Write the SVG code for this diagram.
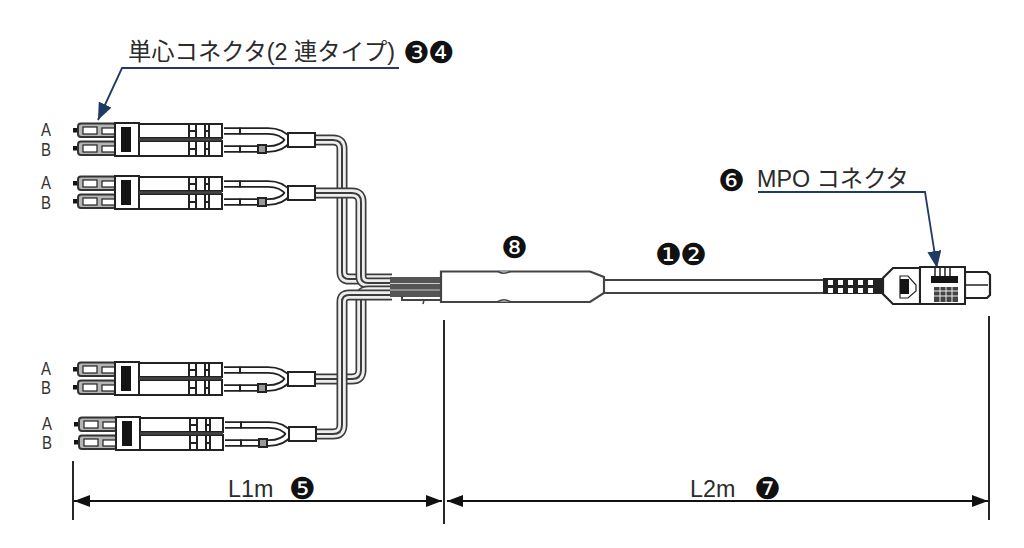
<svg xmlns="http://www.w3.org/2000/svg" xmlns:xlink="http://www.w3.org/1999/xlink" width="1024" height="548" viewBox="0 0 1024 548">
<style>
.t{font-family:"Liberation Sans","Noto Sans CJK JP",sans-serif;font-size:23.3px;fill:#2b2b2b}
.n{font-family:"DejaVu Sans",sans-serif;font-size:30px;fill:#111}
.ab{font-family:"Liberation Sans",sans-serif;font-size:18px;fill:#333}
.d{fill:none;stroke:#222;stroke-width:2}
.w{fill:#fff;stroke:#222;stroke-width:2}
.k{fill:#141414;stroke:none}
.to{fill:none;stroke:#3c3c3c;stroke-width:11}
.ti{fill:none;stroke:#eee;stroke-width:7.600}
.tc{fill:none;stroke:#3c3c3c;stroke-width:2}
.co{fill:none;stroke:#222;stroke-width:7.500}
.ci{fill:none;stroke:#fff;stroke-width:3.800}
.lead{fill:none;stroke:#1f3a63;stroke-width:1.800}
.dim{fill:none;stroke:#111;stroke-width:1.800}
</style>
<defs>
<marker id="ah" markerWidth="17" markerHeight="12" refX="16" refY="6" orient="auto-start-reverse" markerUnits="userSpaceOnUse"><path d="M0,0L16,6L0,12Z" fill="#111"/></marker>
<marker id="bl" markerWidth="18" markerHeight="14" refX="17" refY="7" orient="auto" markerUnits="userSpaceOnUse"><path d="M0,0L17,7L0,14Z" fill="#1f3a63"/></marker>
<g id="ferrule">
<rect class="k" x="73" y="128" width="6" height="4.500"/>
<rect x="78" y="123.500" width="38" height="13.500" rx="3" fill="#b5b5b5" stroke="#333" stroke-width="2"/>
<rect x="83" y="127" width="14" height="7" fill="#fff" stroke="#222" stroke-width="1.200"/>
<rect x="102" y="128" width="14" height="6" fill="#fff" stroke="#222" stroke-width="1.200"/>
</g>
<g id="cap"><path class="d" d="M189,0V14M196,0V14M205,0V14M209,0V14M189,7H196M205,7H209"/></g>
<g id="lc">
<use href="#ferrule"/><use href="#ferrule" y="18"/>
<path class="co" d="M224,131H268Q282,131 288,140"/><path class="co" d="M224,149H268Q282,149 288,140"/>
<path class="ci" d="M224,131H268Q282,131 288,140"/><path class="ci" d="M224,149H268Q282,149 288,140"/>
<path class="d" d="M240,127.500V134.500M240,145.500V152.500"/>
<rect x="258" y="145" width="8" height="8" fill="#999" stroke="#222" stroke-width="2"/>
<rect class="w" x="115" y="123" width="24" height="33"/>
<rect class="k" x="121" y="127" width="10" height="25"/>
<path class="w" d="M139,124H222V138H139Z"/>
<path class="w" d="M139,141H222V156H139Z"/>
<path d="M139,139.500H222" stroke="#444" stroke-width="2.500"/>
<use href="#cap" y="124"/><use href="#cap" y="142"/>
<rect class="w" x="288" y="133" width="27" height="14"/>
</g>
<path id="t1" d="M315,140H333Q342,140 342,149V272Q342,279 349,279H392"/>
<path id="t2" d="M315,193H352Q361,193 361,202V276Q361,283 368,283H392"/>
<path id="t3" d="M315,379H352Q361,379 361,370V298Q361,291 368,291H392"/>
<path id="t4" d="M316,434H333Q342,434 342,425V302Q342,295 349,295H392"/>
</defs>
<g id="connectors">
<use href="#t1" class="to"/><use href="#t1" class="ti"/><use href="#t1" class="tc"/>
<use href="#t2" class="to"/><use href="#t2" class="ti"/><use href="#t2" class="tc"/>
<use href="#t3" class="to"/><use href="#t3" class="ti"/><use href="#t3" class="tc"/>
<use href="#t4" class="to"/><use href="#t4" class="ti"/><use href="#t4" class="tc"/>
<rect x="390" y="277" width="52" height="20" fill="#555"/>
<path d="M390,283.500H442M390,290H442" stroke="#ccc" stroke-width="1"/>
<path d="M402,296V300H442" fill="none" stroke="#444" stroke-width="2"/>
<path d="M424,300L423,304" stroke="#444" stroke-width="1.500"/>
<rect x="604" y="280" width="220" height="13" fill="#fff" stroke="#444" stroke-width="2"/>
<path class="lead" d="M399,68H122L98,120" marker-end="url(#bl)"/>
<path class="lead" d="M758,192H925L937,268" marker-end="url(#bl)"/>
<path class="dim" d="M73,461V520M444,320V524M989,316V520"/>
<path class="dim" d="M74,501H442" marker-start="url(#ah)" marker-end="url(#ah)"/>
<path class="dim" d="M447,501H988" marker-start="url(#ah)" marker-end="url(#ah)"/>
</g>
<g id="pair1"><use href="#lc"/></g>
<g id="pair2" transform="translate(0,53)"><use href="#lc"/></g>
<g id="pair3" transform="translate(0,239)"><use href="#lc"/></g>
<g id="pair4" transform="translate(1,294)"><use href="#lc"/></g>
<g id="hub">
<path d="M441,271.500H590L604,277V293L590,302H441Z" fill="#fff" stroke="#444" stroke-width="2.200"/>
<path d="M498,271.500Q504,275 510,271.500M498,301.500Q504,298 510,301.500" fill="#fff" stroke="#444" stroke-width="1.500"/>
</g>
<g id="mpo">
<rect x="823" y="278" width="60" height="16" fill="#222"/>
<g fill="#fff">
<rect x="828" y="280" width="5" height="5"/><rect x="828" y="288" width="5" height="5"/><rect x="838" y="280" width="5" height="5"/><rect x="838" y="288" width="5" height="5"/><rect x="848" y="280" width="5" height="5"/><rect x="848" y="288" width="5" height="5"/><rect x="858" y="280" width="5" height="5"/><rect x="858" y="288" width="5" height="5"/><rect x="868" y="280" width="5" height="5"/><rect x="868" y="288" width="5" height="5"/>
</g>
<path d="M883,278L893,268H920V304H893L883,294Z" fill="#fff" stroke="#222" stroke-width="2.200"/>
<path d="M900,276H908L916,285V291L908,298H900Z" fill="#fff" stroke="#222" stroke-width="1.200"/>
<rect class="k" x="900" y="279" width="9" height="15"/>
<path d="M965,272H987L990,275V295L987,298H965Z" fill="#fff" stroke="#222" stroke-width="2.200"/>
<path d="M965,285H988" stroke="#222" stroke-width="1.500"/>
<rect class="w" x="920" y="267" width="45" height="37"/>
<rect class="k" x="931" y="276" width="27" height="7"/>
<path d="M935,268V276M940,268V276M945,268V276M950,268V276" stroke="#222" stroke-width="1.500"/>
<rect x="934" y="287" width="24" height="15" fill="#444"/>
<path d="M934,291H958M934,296H958M940,287V302M946,287V302M952,287V302" stroke="#eee" stroke-width="1"/>
</g>
<g id="labels">
<text class="t" x="128" y="60">単心コネクタ(2 連タイプ)</text>
<text class="n" x="403" y="63" letter-spacing="-2">❸❹</text>
<text class="n" x="718" y="191">❻</text>
<text class="t" x="757" y="187">MPO コネクタ</text>
<text class="n" x="501" y="258">❽</text>
<text class="n" x="655" y="265" letter-spacing="-2">❶❷</text>
<text class="t" x="228" y="497">L1m</text>
<text class="n" x="289" y="499">❺</text>
<text class="t" x="690" y="497">L2m</text>
<text class="n" x="754" y="499">❼</text>
<g class="ab">
<text x="41" y="136" textLength="10" lengthAdjust="spacingAndGlyphs">A</text><text x="41" y="156" textLength="10" lengthAdjust="spacingAndGlyphs">B</text>
<text x="41" y="189" textLength="10" lengthAdjust="spacingAndGlyphs">A</text><text x="41" y="209" textLength="10" lengthAdjust="spacingAndGlyphs">B</text>
<text x="41" y="375" textLength="10" lengthAdjust="spacingAndGlyphs">A</text><text x="41" y="394" textLength="10" lengthAdjust="spacingAndGlyphs">B</text>
<text x="42" y="430" textLength="10" lengthAdjust="spacingAndGlyphs">A</text><text x="42" y="449" textLength="10" lengthAdjust="spacingAndGlyphs">B</text>
</g>
</g>
</svg>
